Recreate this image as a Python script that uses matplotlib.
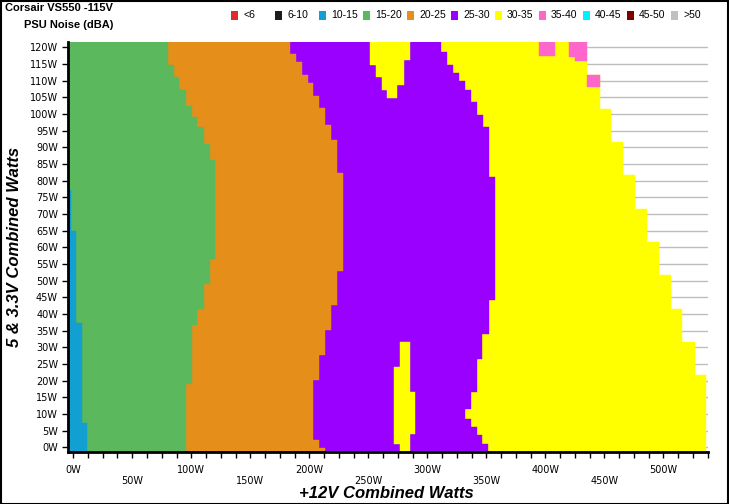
import matplotlib
matplotlib.use('Agg')
import matplotlib.pyplot as plt
from matplotlib.patches import Rectangle
from matplotlib.ticker import MultipleLocator
import numpy as np

# =============================================================================
# Noise map data.
# Each band: step edges along the 5 & 3.3V axis (W) and the +12V load (W)
# where the band stops inside each step. Bands are painted loud -> quiet.
# =============================================================================

# 30-35 dBA, outer edge of the tested area
yellow_y = [-1.5, 21.7, 31.7, 41.5, 51.7, 61.7, 71.5, 81.7, 91.7, 101.5, 111.7, 121.6]
yellow_x = [536, 527, 516, 506.5, 496.5, 486, 476, 466, 455.5, 446.5, 435]

# 25-30 dBA
purple_y = [-1.5, 1.0, 3.7, 6.1, 8.5, 11.5, 16.6, 26.5, 34.0, 44.2, 81.2, 96.1,
            99.7, 103.6, 107.3, 109.8, 112.3, 114.8, 118.6, 121.6]
purple_x = [351.5, 346.5, 342, 337, 332, 337, 342, 346.5, 352, 357.5, 352, 347,
            342, 337, 332, 326.5, 321.5, 316.5, 311.5]

# 20-25 dBA
orange_y = [-1.5, -0.3, 2.2, 20.2, 27.7, 35.2, 42.7, 52.9, 82.4, 92.2, 96.7,
            101.8, 105.4, 109.2, 111.7, 115.6, 118.0, 121.6]
orange_x = [213.5, 208, 203, 208, 213.5, 218.5, 223.5, 228.5, 223.5, 218.5,
            213.5, 208, 203, 199, 194, 188.5, 183.5]

# 15-20 dBA
green_y = [-1.5, 19.0, 36.7, 41.5, 49.0, 56.5, 86.2, 91.0, 96.0, 99.0, 102.4,
           107.2, 111.0, 114.7, 121.6]
green_x = [95.5, 100.5, 105, 111, 116, 120, 115.5, 111, 105, 100.5, 95.5, 90, 85, 80]

# 10-15 dBA
blue_y = [-1.5, 7.4, 37.4, 64.9, 77.2]
blue_x = [12, 7, 2.5, -2]

# 30-35 dBA islands inside the 25-30 band
isl_top_y = [104.8, 107.3, 108.8, 111.1, 114.8, 116.3, 121.6]
isl_top_l = [266, 261.5, 261.5, 256.5, 251.5, 251.5]
isl_top_r = [274.5, 274.5, 280.5, 280.5, 280.5, 285.5]

isl_bot_y = [-1.5, 1.0, 4.0, 16.6, 24.1, 31.6]
isl_bot_l = [277, 272, 272, 272, 277]
isl_bot_r = [285.5, 285.5, 289.5, 285.5, 285.5]

# 35-40 dBA spots at the top
pink_l = [394.5, 420, 425, 435]
pink_r = [408, 425, 435, 446.5]
pink_b = [117.3, 117.2, 115.8, 108.0]
pink_t = [121.6, 121.6, 121.6, 111.7]

legend_labels = ['<6', '6-10', '10-15', '15-20', '20-25', '25-30',
                 '30-35', '35-40', '40-45', '45-50', '>50']
legend_colors = ['#DD2C2C', '#1C1C1C', '#129FD1', '#5CB85C', '#E58E1A', '#9900FF',
                 '#FFFF00', '#FF66CC', '#00F0FF', '#800000', '#C0C0C0']
c_blue, c_green, c_orange, c_purple, c_yellow, c_pink = legend_colors[2:8]

X_MIN, X_MAX = -4.7, 537.9
Y_MIN, Y_MAX = -1.5, 121.6


def band(ax, y_edges, x_right, color, x_left=None):
    y_edges = np.asarray(y_edges, float)
    x_right = np.asarray(x_right, float)
    if x_left is None:
        x_left = np.full_like(x_right, X_MIN)
    x_left = np.asarray(x_left, float)
    ax.barh(y_edges[:-1], x_right - x_left, height=np.diff(y_edges), left=x_left,
            align='edge', color=color, edgecolor=color, linewidth=0.3)


# =============================================================================
# Figure
# =============================================================================
W, H = 729, 504
fig = plt.figure(figsize=(W / 100, H / 100), dpi=100)
fig.set_facecolor('w')

ax = fig.add_axes([67.7 / W, 1 - 452.3 / H, (708 - 67.7) / W, (452.3 - 42) / H])

ax.set_axisbelow(True)
ax.yaxis.grid(True, color='#BDBDBD', linewidth=1)

band(ax, yellow_y, yellow_x, c_yellow)
band(ax, purple_y, purple_x, c_purple)
band(ax, orange_y, orange_x, c_orange)
band(ax, green_y, green_x, c_green)
band(ax, blue_y, blue_x, c_blue)
band(ax, isl_top_y, isl_top_r, c_yellow, isl_top_l)
band(ax, isl_bot_y, isl_bot_r, c_yellow, isl_bot_l)
for l, r, b, t in zip(pink_l, pink_r, pink_b, pink_t):
    band(ax, [b, t], [r], c_pink, [l])

ax.set_xlim(X_MIN, X_MAX)
ax.set_ylim(Y_MIN, Y_MAX)

for s in ['top', 'right']:
    ax.spines[s].set_visible(False)
for s in ['left', 'bottom']:
    ax.spines[s].set_linewidth(2)
    ax.spines[s].set_color('k')

# y axis
yt = np.arange(0, 121, 5)
ax.set_yticks(yt)
ax.set_yticklabels(['%dW' % v for v in yt], fontsize=7)
ax.yaxis.set_minor_locator(MultipleLocator(1))
ax.tick_params(axis='y', which='major', length=4, width=1, pad=3)
ax.tick_params(axis='y', which='minor', length=2, width=0.8, direction='inout')

# x axis, staggered labels
xt = np.arange(0, 501, 50)
ax.set_xticks(xt)
ax.set_xticklabels([('%dW' if v % 100 == 0 else '\n%dW') % v for v in xt],
                   fontsize=7, linespacing=1.15)
ax.xaxis.set_minor_locator(MultipleLocator(12.5))
ax.tick_params(axis='x', which='both', length=4, width=1, pad=5)

fig.text(386 / W, 1 - 494 / H, '+12V Combined Watts', fontsize=12,
         fontweight='bold', fontstyle='italic', family='Liberation Sans',
         ha='center', va='center')
fig.text(15 / W, 1 - 247 / H, '5 & 3.3V Combined Watts', fontsize=12,
         fontweight='bold', fontstyle='italic', family='Liberation Sans',
         ha='center', va='center', rotation=90)

fig.text(5 / W, 1 - 8 / H, 'Corsair VS550 -115V', fontsize=8, fontweight='bold',
         family='Liberation Sans', ha='left', va='center')
fig.text(24 / W, 1 - 25 / H, 'PSU Noise (dBA)', fontsize=8, fontweight='bold',
         family='Liberation Sans', ha='left', va='center')

# legend row
for i, (lab, col) in enumerate(zip(legend_labels, legend_colors)):
    x0 = 231 + 44 * i
    fig.patches.append(Rectangle((x0 / W, 1 - 19.5 / H), 7 / W, 8.5 / H,
                                 transform=fig.transFigure, facecolor=col,
                                 edgecolor='none'))
    fig.text((x0 + 12) / W, 1 - 15.5 / H, lab, fontsize=7.5,
             family='Liberation Sans', ha='left', va='center')

# outer frame
fig.patches.append(Rectangle((0.5 / W, 0.5 / H), 1 - 1.5 / W, 1 - 1.5 / H,
                             transform=fig.transFigure, fill=False,
                             edgecolor='k', linewidth=1.5))

plt.savefig('out.png', dpi=100)
